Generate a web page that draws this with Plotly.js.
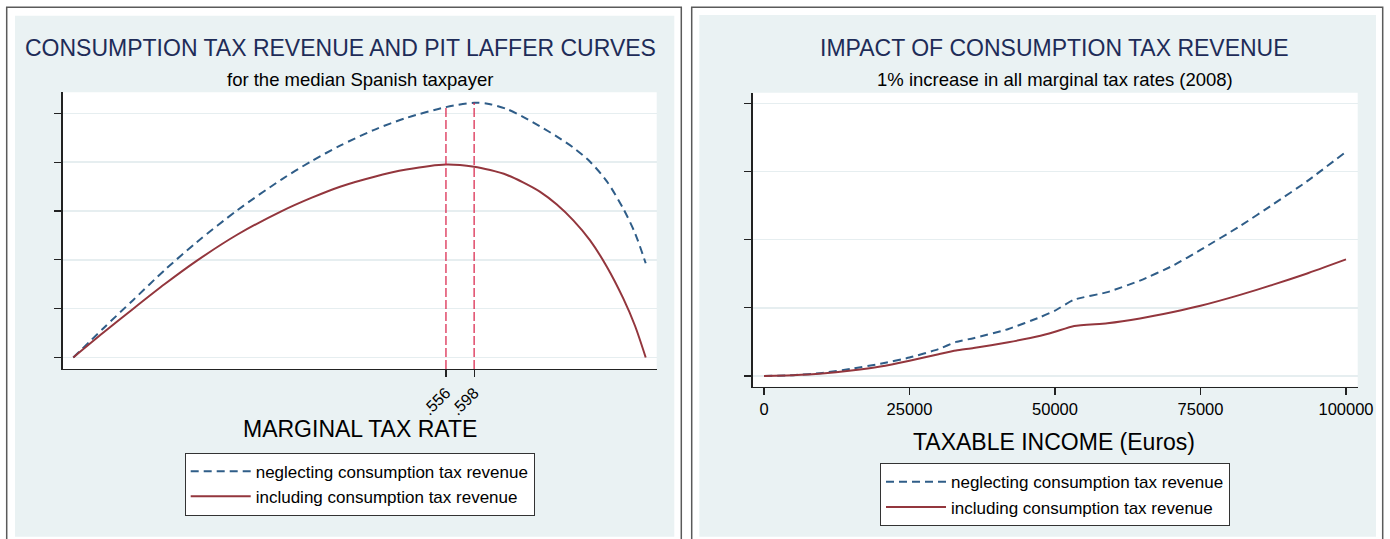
<!DOCTYPE html>
<html>
<head>
<meta charset="utf-8">
<script src="https://cdn.plot.ly/plotly-3.0.1.min.js"></script>
<style>
  html, body { margin: 0; padding: 0; background: #ffffff; }
  #chart { width: 1390px; height: 539px; }
</style>
</head>
<body>
<div id="chart"></div>
<script>
// ---------- DATA ----------
// Left panel: Laffer curves for the median Spanish taxpayer
const taxRate = [0, 0.045, 0.0895, 0.137, 0.184, 0.245, 0.311, 0.355, 0.398, 0.448, 0.497, 0.556, 0.598, 0.622, 0.647, 0.671, 0.696, 0.721, 0.746, 0.771, 0.796, 0.8205, 0.838, 0.854];
const lafferNeglecting = [0, 0.60, 1.18, 1.80, 2.36, 3.02, 3.65, 4.02, 4.34, 4.66, 4.91, 5.13, 5.22, 5.19, 5.09, 4.93, 4.74, 4.53, 4.30, 4.01, 3.61, 3.05, 2.55, 1.93];
const lafferIncluding  = [0, 0.51, 1.00, 1.51, 1.98, 2.52, 3.00, 3.27, 3.50, 3.70, 3.85, 3.955, 3.91, 3.84, 3.74, 3.59, 3.40, 3.14, 2.81, 2.40, 1.86, 1.21, 0.65, 0];
const peakRates = [0.556, 0.598];
const peakLabels = ['.556', '.598'];
const leftYTicks = [0, 1, 2, 3, 4, 5];

// Right panel: impact of consumption tax revenue, 1% increase in all marginal rates
const income = [0, 5000, 10000, 15000, 20000, 25000, 30000, 33000, 36000, 42000, 47500, 50000, 53300, 59000, 64600, 70300, 75000, 81800, 87500, 93200, 100000];
const impactNeglecting = [0, 0.012, 0.045, 0.105, 0.18, 0.27, 0.395, 0.50, 0.555, 0.69, 0.865, 0.96, 1.12, 1.23, 1.40, 1.62, 1.85, 2.20, 2.52, 2.85, 3.29];
const impactIncluding  = [0, 0.010, 0.035, 0.080, 0.14, 0.225, 0.32, 0.375, 0.41, 0.495, 0.59, 0.65, 0.735, 0.775, 0.845, 0.94, 1.03, 1.19, 1.34, 1.50, 1.71];
const incomeTicks = [0, 25000, 50000, 75000, 100000];
const incomeTickLabels = ['0', '25000', '50000', '75000', '100000'];
const rightYTicks = [0, 1, 2, 3, 4];

const seriesNames = ['neglecting consumption tax revenue', 'including consumption tax revenue'];

// ---------- STYLE / LAYOUT HELPERS ----------
const W = 1390, H = 539;
const px = x => x / W;
const py = y => 1 - y / H;
const FONT = 'Liberation Sans, Arial, Helvetica, sans-serif';
const BLUE = '#2f5d88';
const RED = '#93363d';
const VLINE = '#d81c44';
const PANEL = '#eaf2f3';
const GRID = '#e6eef0';
const AXIS = '#222222';

const leftXRange = [-0.0158, 0.8704];
const leftYRange = [-0.236, 5.434];
const rightXRange = [-1942, 102010];
const rightYRange = [-0.157, 4.156];

function interp(xs, ys, x) {
  for (let i = 0; i < xs.length - 1; i++) {
    if (x >= xs[i] && x <= xs[i + 1]) {
      const f = (x - xs[i]) / (xs[i + 1] - xs[i]);
      return ys[i] + f * (ys[i + 1] - ys[i]);
    }
  }
  return ys[ys.length - 1];
}

const traces = [
  { x: taxRate, y: lafferNeglecting, type: 'scatter', mode: 'lines', name: seriesNames[0],
    line: { color: BLUE, width: 2, dash: '8px,5px', shape: 'spline', smoothing: 0.8 }, xaxis: 'x', yaxis: 'y', legend: 'legend' },
  { x: taxRate, y: lafferIncluding, type: 'scatter', mode: 'lines', name: seriesNames[1],
    line: { color: RED, width: 2, shape: 'spline', smoothing: 0.8 }, xaxis: 'x', yaxis: 'y', legend: 'legend' },
  { x: income, y: impactNeglecting, type: 'scatter', mode: 'lines', name: seriesNames[0],
    line: { color: BLUE, width: 2, dash: '8px,5px', shape: 'spline', smoothing: 0.5 }, xaxis: 'x2', yaxis: 'y2', legend: 'legend2' },
  { x: income, y: impactIncluding, type: 'scatter', mode: 'lines', name: seriesNames[1],
    line: { color: RED, width: 2, shape: 'spline', smoothing: 0.5 }, xaxis: 'x2', yaxis: 'y2', legend: 'legend2' }
];

const leftXDomain = [px(62.7), px(656.7)];
const leftYDomain = [py(369), py(92.3)];
const rightXDomain = [px(752.7), px(1357.7)];
const rightYDomain = [py(386.7), py(92.7)];

const shapes = [
  // outer frames
  { type: 'rect', xref: 'paper', yref: 'paper', x0: px(6.7), x1: px(681.3), y0: py(560), y1: py(7.3),
    line: { color: '#5a5a5a', width: 1.5 }, fillcolor: 'rgba(0,0,0,0)', layer: 'below' },
  { type: 'rect', xref: 'paper', yref: 'paper', x0: px(691.7), x1: px(1382.7), y0: py(560), y1: py(7.3),
    line: { color: '#5a5a5a', width: 1.5 }, fillcolor: 'rgba(0,0,0,0)', layer: 'below' },
  // panel backgrounds
  { type: 'rect', xref: 'paper', yref: 'paper', x0: px(15), x1: px(674.3), y0: py(536.7), y1: py(15.7),
    line: { width: 0 }, fillcolor: PANEL, layer: 'below' },
  { type: 'rect', xref: 'paper', yref: 'paper', x0: px(699.3), x1: px(1376), y0: py(536.7), y1: py(15),
    line: { width: 0 }, fillcolor: PANEL, layer: 'below' },
  // plot regions (white)
  { type: 'rect', xref: 'paper', yref: 'paper', x0: leftXDomain[0], x1: leftXDomain[1], y0: leftYDomain[0], y1: leftYDomain[1],
    line: { width: 0 }, fillcolor: '#ffffff', layer: 'below' },
  { type: 'rect', xref: 'paper', yref: 'paper', x0: rightXDomain[0], x1: rightXDomain[1], y0: rightYDomain[0], y1: rightYDomain[1],
    line: { width: 0 }, fillcolor: '#ffffff', layer: 'below' }
];

// red dashed reference lines at the revenue-maximising rates, up to the "neglecting" curve
peakRates.forEach(r => {
  shapes.push({ type: 'line', xref: 'x', yref: 'y', x0: r, x1: r, y0: leftYRange[0], y1: interp(taxRate, lafferNeglecting, r),
    line: { color: VLINE, width: 1.2, dash: '9px,3px' }, layer: 'above' });
});

const annotations = [
  { text: 'CONSUMPTION TAX REVENUE AND PIT LAFFER CURVES', xref: 'paper', yref: 'paper', x: px(340.7), y: py(48),
    xanchor: 'center', yanchor: 'middle', showarrow: false, font: { family: FONT, size: 23, color: '#1e2c58' } },
  { text: 'for the median Spanish taxpayer', xref: 'paper', yref: 'paper', x: px(359.5), y: py(79),
    xanchor: 'center', yanchor: 'middle', showarrow: false, font: { family: FONT, size: 18.5, color: '#000000' } },
  { text: 'MARGINAL TAX RATE', xref: 'paper', yref: 'paper', x: px(359.5), y: py(429),
    xanchor: 'center', yanchor: 'middle', showarrow: false, font: { family: FONT, size: 23, color: '#000000' } },
  { text: 'IMPACT OF CONSUMPTION TAX REVENUE', xref: 'paper', yref: 'paper', x: px(1054.5), y: py(48.5),
    xanchor: 'center', yanchor: 'middle', showarrow: false, font: { family: FONT, size: 23, color: '#1e2c58' } },
  { text: '1% increase in all marginal tax rates (2008)', xref: 'paper', yref: 'paper', x: px(1054.5), y: py(79.5),
    xanchor: 'center', yanchor: 'middle', showarrow: false, font: { family: FONT, size: 18.5, color: '#000000' } },
  { text: 'TAXABLE INCOME (Euros)', xref: 'paper', yref: 'paper', x: px(1053.5), y: py(442),
    xanchor: 'center', yanchor: 'middle', showarrow: false, font: { family: FONT, size: 23, color: '#000000' } }
];

const legendCommon = {
  bgcolor: '#ffffff', bordercolor: '#333333', borderwidth: 1,
  font: { family: FONT, size: 17, color: '#000000' },
  itemwidth: 60, traceorder: 'normal', orientation: 'v',
  xanchor: 'center', yanchor: 'top', xref: 'paper', yref: 'paper'
};

const axisCommon = {
  showline: true, linecolor: AXIS, linewidth: 1.3, ticks: 'outside', ticklen: 7, tickwidth: 1.2,
  tickcolor: AXIS, zeroline: false, fixedrange: true,
  tickfont: { family: FONT, size: 16.5, color: '#000000' }
};

const layout = {
  width: W, height: H, autosize: false,
  margin: { l: 0, r: 0, t: 0, b: 0, pad: 0 },
  paper_bgcolor: '#ffffff', plot_bgcolor: 'rgba(0,0,0,0)',
  font: { family: FONT, color: '#000000' },
  showlegend: true,
  xaxis: Object.assign({}, axisCommon, {
    domain: leftXDomain, range: leftXRange, anchor: 'y',
    tickmode: 'array', tickvals: peakRates, ticktext: peakLabels, tickangle: -45, showgrid: false,
    tickfont: { family: FONT, size: 16, color: '#000000' }
  }),
  yaxis: Object.assign({}, axisCommon, {
    domain: leftYDomain, range: leftYRange, anchor: 'x',
    tickmode: 'array', tickvals: leftYTicks, showticklabels: false,
    showgrid: true, gridcolor: GRID, gridwidth: 1.6
  }),
  xaxis2: Object.assign({}, axisCommon, {
    domain: rightXDomain, range: rightXRange, anchor: 'y2',
    tickmode: 'array', tickvals: incomeTicks, ticktext: incomeTickLabels, tickangle: 0, showgrid: false
  }),
  yaxis2: Object.assign({}, axisCommon, {
    domain: rightYDomain, range: rightYRange, anchor: 'x2',
    tickmode: 'array', tickvals: rightYTicks, showticklabels: false,
    showgrid: true, gridcolor: GRID, gridwidth: 1.6
  }),
  legend: Object.assign({}, legendCommon, { x: px(359.7), y: py(452.7) }),
  legend2: Object.assign({}, legendCommon, { x: px(1055), y: py(463.3) }),
  shapes: shapes,
  annotations: annotations
};

Plotly.newPlot('chart', traces, layout, { displayModeBar: false, responsive: false, staticPlot: true });
</script>
</body>
</html>
